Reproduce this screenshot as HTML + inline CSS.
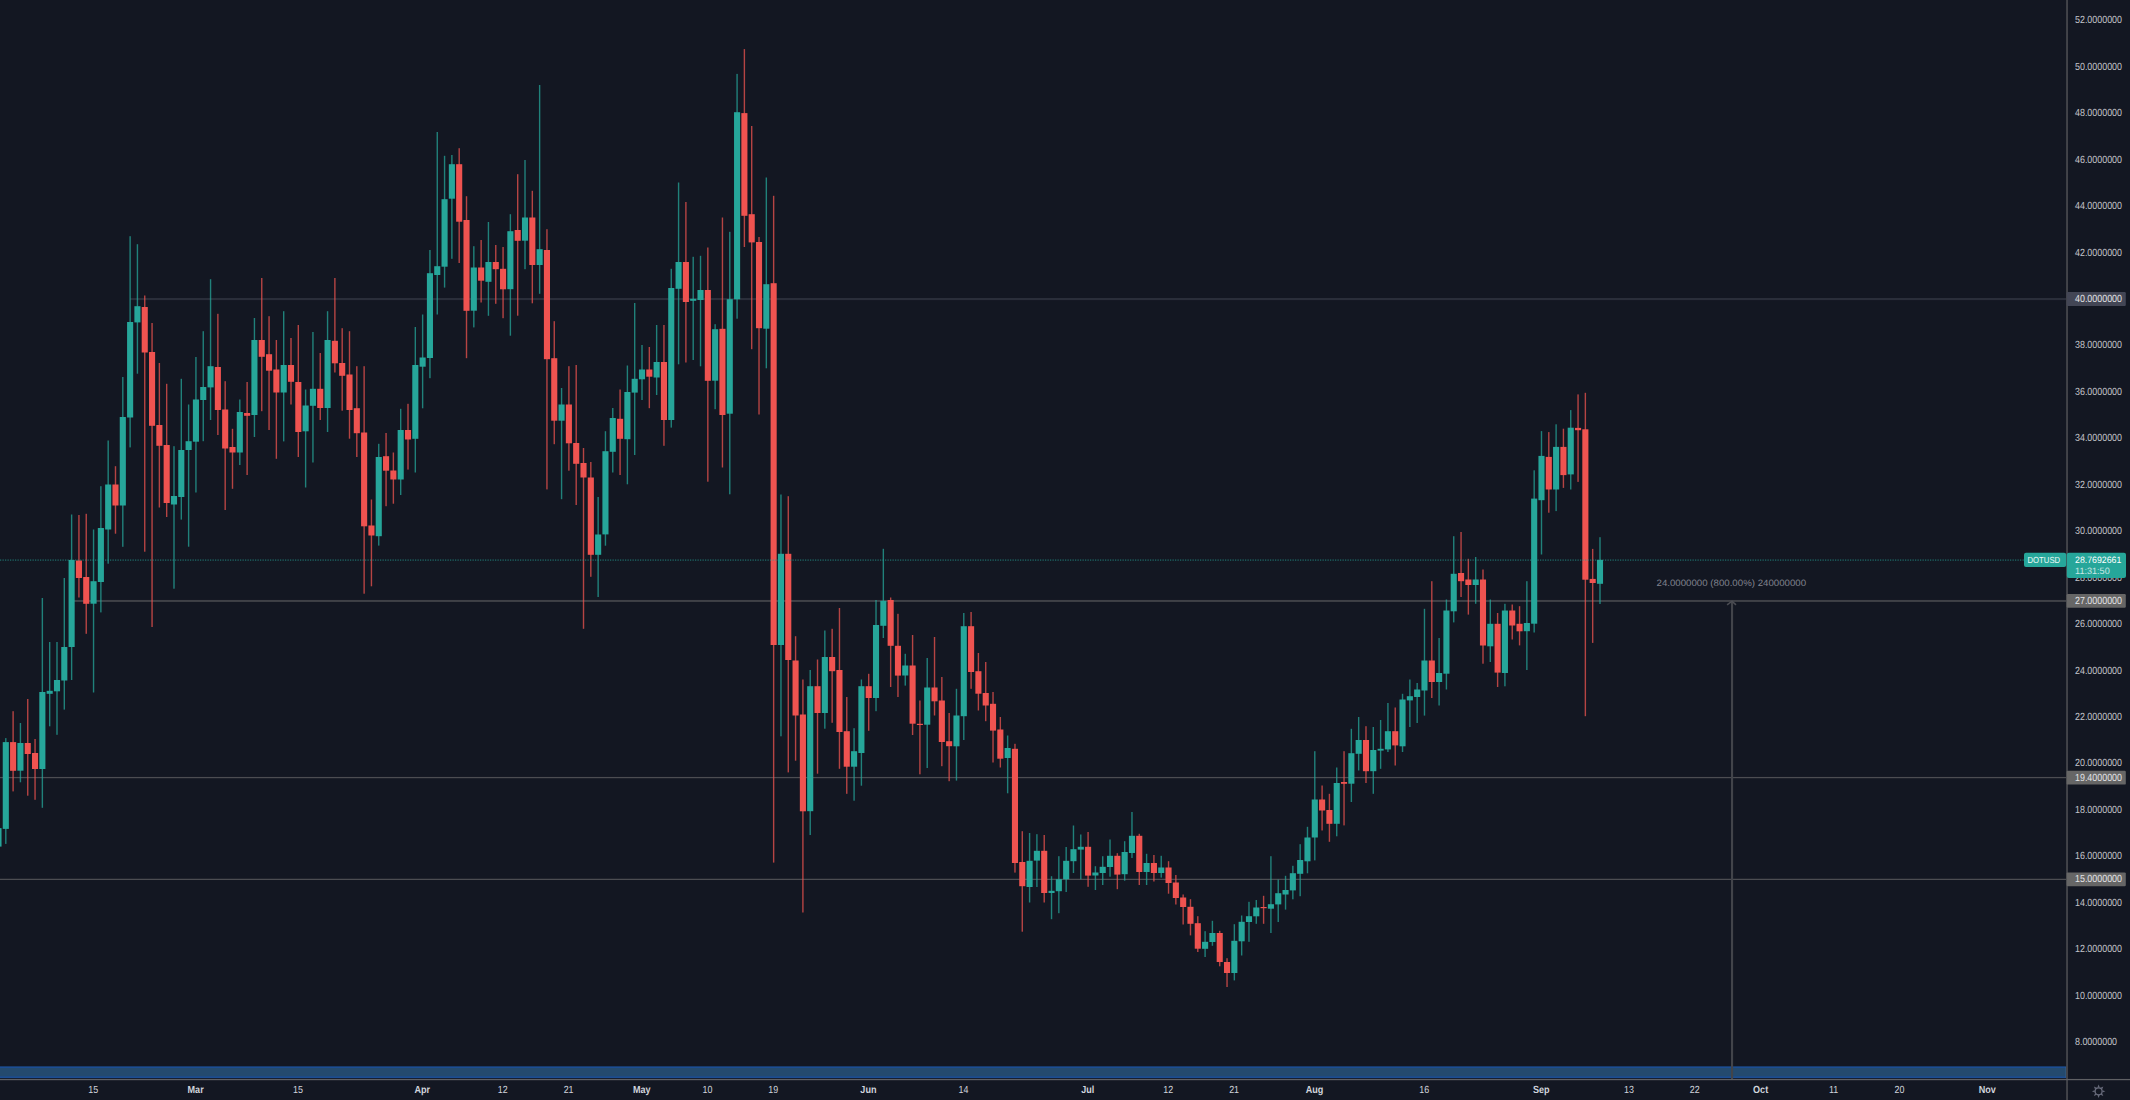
<!DOCTYPE html>
<html><head><meta charset="utf-8"><title>DOTUSD</title>
<style>html,body{margin:0;padding:0;background:#131722;overflow:hidden}svg{display:block}text{font-family:"Liberation Sans",sans-serif;text-rendering:geometricPrecision}</style></head><body>
<svg width="2130" height="1100" viewBox="0 0 2130 1100">
<rect width="2130" height="1100" fill="#131722"/>
<g id="band">
<rect x="0" y="1066.8" width="2066.6" height="11.2" fill="#244a6e"/>
<rect x="0" y="1066.4" width="2066.6" height="1.6" fill="#1c4d92"/>
<rect x="0" y="1076.4" width="2066.6" height="1.7" fill="#1c4d92"/>
<rect x="2065.6" y="1067" width="1" height="10.6" fill="#3e648c"/>
</g>
<g id="hlines">
<rect x="130.1" y="298" width="1936.9" height="2.1" fill="#2a2e3a"/>
<rect x="71.6" y="599.95" width="1995.4" height="2" fill="#3f4147"/>
<rect x="0" y="776.95" width="2067" height="1.25" fill="#4c4d52"/>
<rect x="0" y="878.75" width="2067" height="1.25" fill="#4c4d52"/>
</g>
<g id="measure">
<rect x="1731.00" y="601.5" width="2.1" height="477.5" fill="#42444a"/>
<polyline points="1727.1,604.9 1732.0,601.2 1736.0,604.9" stroke="#4b4d53" stroke-width="1.5" fill="none"/>
</g>
<text transform="translate(1731.3,586.1) scale(1.053,1)" text-anchor="middle" font-size="9.2" fill="#81848f">24.0000000 (800.00%) 240000000</text>
<g id="candles">
<rect x="-2.21" y="826.0" width="1.4" height="24.0" fill="#26a69a" opacity="0.74"/><rect x="-4.56" y="828.1" width="6.1" height="18.5" fill="#26a69a"/>
<rect x="5.10" y="738.1" width="1.4" height="105.8" fill="#26a69a" opacity="0.74"/><rect x="2.75" y="742.1" width="6.1" height="86.8" fill="#26a69a"/>
<rect x="12.41" y="711.2" width="1.4" height="80.2" fill="#ef5350" opacity="0.74"/><rect x="10.06" y="742.1" width="6.1" height="28.7" fill="#ef5350"/>
<rect x="19.73" y="723.0" width="1.4" height="59.3" fill="#26a69a" opacity="0.74"/><rect x="17.38" y="743.0" width="6.1" height="27.7" fill="#26a69a"/>
<rect x="27.04" y="699.0" width="1.4" height="96.7" fill="#ef5350" opacity="0.74"/><rect x="24.69" y="743.0" width="6.1" height="11.0" fill="#ef5350"/>
<rect x="34.35" y="739.0" width="1.4" height="60.8" fill="#ef5350" opacity="0.74"/><rect x="32.00" y="753.0" width="6.1" height="16.0" fill="#ef5350"/>
<rect x="41.66" y="598.0" width="1.4" height="209.8" fill="#26a69a" opacity="0.74"/><rect x="39.31" y="692.0" width="6.1" height="77.0" fill="#26a69a"/>
<rect x="48.98" y="642.0" width="1.4" height="84.3" fill="#26a69a" opacity="0.74"/><rect x="46.63" y="690.8" width="6.1" height="3.0" fill="#26a69a"/>
<rect x="56.29" y="642.0" width="1.4" height="92.8" fill="#26a69a" opacity="0.74"/><rect x="53.94" y="680.0" width="6.1" height="11.3" fill="#26a69a"/>
<rect x="63.60" y="578.0" width="1.4" height="131.6" fill="#26a69a" opacity="0.74"/><rect x="61.25" y="647.0" width="6.1" height="33.5" fill="#26a69a"/>
<rect x="70.92" y="514.5" width="1.4" height="165.5" fill="#26a69a" opacity="0.74"/><rect x="68.57" y="560.0" width="6.1" height="87.0" fill="#26a69a"/>
<rect x="78.23" y="515.0" width="1.4" height="82.5" fill="#ef5350" opacity="0.74"/><rect x="75.88" y="560.5" width="6.1" height="17.5" fill="#ef5350"/>
<rect x="85.54" y="513.8" width="1.4" height="120.0" fill="#ef5350" opacity="0.74"/><rect x="83.19" y="577.0" width="6.1" height="26.8" fill="#ef5350"/>
<rect x="92.85" y="529.5" width="1.4" height="163.0" fill="#26a69a" opacity="0.74"/><rect x="90.50" y="581.2" width="6.1" height="22.5" fill="#26a69a"/>
<rect x="100.17" y="486.2" width="1.4" height="126.2" fill="#26a69a" opacity="0.74"/><rect x="97.82" y="528.0" width="6.1" height="54.0" fill="#26a69a"/>
<rect x="107.48" y="440.5" width="1.4" height="123.2" fill="#26a69a" opacity="0.74"/><rect x="105.13" y="484.5" width="6.1" height="45.0" fill="#26a69a"/>
<rect x="114.79" y="466.2" width="1.4" height="67.5" fill="#ef5350" opacity="0.74"/><rect x="112.44" y="484.5" width="6.1" height="21.0" fill="#ef5350"/>
<rect x="122.10" y="377.0" width="1.4" height="169.8" fill="#26a69a" opacity="0.74"/><rect x="119.75" y="417.0" width="6.1" height="88.5" fill="#26a69a"/>
<rect x="129.42" y="236.2" width="1.4" height="211.2" fill="#26a69a" opacity="0.74"/><rect x="127.07" y="322.0" width="6.1" height="95.5" fill="#26a69a"/>
<rect x="136.73" y="244.2" width="1.4" height="129.5" fill="#26a69a" opacity="0.74"/><rect x="134.38" y="306.2" width="6.1" height="16.2" fill="#26a69a"/>
<rect x="144.04" y="295.5" width="1.4" height="256.2" fill="#ef5350" opacity="0.74"/><rect x="141.69" y="307.0" width="6.1" height="45.5" fill="#ef5350"/>
<rect x="151.36" y="323.0" width="1.4" height="304.0" fill="#ef5350" opacity="0.74"/><rect x="149.01" y="352.0" width="6.1" height="73.8" fill="#ef5350"/>
<rect x="158.67" y="363.0" width="1.4" height="144.5" fill="#ef5350" opacity="0.74"/><rect x="156.32" y="425.0" width="6.1" height="20.8" fill="#ef5350"/>
<rect x="165.98" y="383.8" width="1.4" height="133.2" fill="#ef5350" opacity="0.74"/><rect x="163.63" y="445.0" width="6.1" height="58.0" fill="#ef5350"/>
<rect x="173.29" y="446.2" width="1.4" height="142.5" fill="#26a69a" opacity="0.74"/><rect x="170.94" y="496.0" width="6.1" height="8.5" fill="#26a69a"/>
<rect x="180.61" y="378.8" width="1.4" height="140.8" fill="#26a69a" opacity="0.74"/><rect x="178.26" y="450.0" width="6.1" height="47.0" fill="#26a69a"/>
<rect x="187.92" y="404.5" width="1.4" height="142.2" fill="#26a69a" opacity="0.74"/><rect x="185.57" y="441.2" width="6.1" height="8.8" fill="#26a69a"/>
<rect x="195.23" y="357.0" width="1.4" height="135.5" fill="#26a69a" opacity="0.74"/><rect x="192.88" y="399.5" width="6.1" height="42.2" fill="#26a69a"/>
<rect x="202.55" y="331.2" width="1.4" height="110.0" fill="#26a69a" opacity="0.74"/><rect x="200.20" y="387.0" width="6.1" height="13.0" fill="#26a69a"/>
<rect x="209.86" y="279.2" width="1.4" height="140.8" fill="#26a69a" opacity="0.74"/><rect x="207.51" y="366.2" width="6.1" height="21.2" fill="#26a69a"/>
<rect x="217.17" y="313.8" width="1.4" height="121.2" fill="#ef5350" opacity="0.74"/><rect x="214.82" y="367.0" width="6.1" height="43.0" fill="#ef5350"/>
<rect x="224.48" y="381.2" width="1.4" height="128.8" fill="#ef5350" opacity="0.74"/><rect x="222.13" y="409.5" width="6.1" height="39.0" fill="#ef5350"/>
<rect x="231.80" y="428.8" width="1.4" height="60.0" fill="#ef5350" opacity="0.74"/><rect x="229.45" y="447.0" width="6.1" height="5.5" fill="#ef5350"/>
<rect x="239.11" y="399.5" width="1.4" height="65.5" fill="#26a69a" opacity="0.74"/><rect x="236.76" y="412.0" width="6.1" height="40.5" fill="#26a69a"/>
<rect x="246.42" y="382.0" width="1.4" height="93.0" fill="#ef5350" opacity="0.74"/><rect x="244.07" y="413.0" width="6.1" height="2.8" fill="#ef5350"/>
<rect x="253.74" y="318.0" width="1.4" height="119.0" fill="#26a69a" opacity="0.74"/><rect x="251.39" y="340.0" width="6.1" height="75.0" fill="#26a69a"/>
<rect x="261.05" y="278.0" width="1.4" height="133.2" fill="#ef5350" opacity="0.74"/><rect x="258.70" y="340.0" width="6.1" height="16.8" fill="#ef5350"/>
<rect x="268.36" y="316.2" width="1.4" height="113.8" fill="#ef5350" opacity="0.74"/><rect x="266.01" y="354.2" width="6.1" height="16.5" fill="#ef5350"/>
<rect x="275.67" y="340.0" width="1.4" height="118.8" fill="#ef5350" opacity="0.74"/><rect x="273.32" y="369.5" width="6.1" height="23.0" fill="#ef5350"/>
<rect x="282.99" y="311.2" width="1.4" height="130.2" fill="#26a69a" opacity="0.74"/><rect x="280.64" y="365.0" width="6.1" height="27.5" fill="#26a69a"/>
<rect x="290.30" y="338.0" width="1.4" height="66.5" fill="#ef5350" opacity="0.74"/><rect x="287.95" y="365.0" width="6.1" height="16.8" fill="#ef5350"/>
<rect x="297.61" y="325.0" width="1.4" height="132.0" fill="#ef5350" opacity="0.74"/><rect x="295.26" y="382.0" width="6.1" height="50.0" fill="#ef5350"/>
<rect x="304.92" y="389.5" width="1.4" height="98.0" fill="#26a69a" opacity="0.74"/><rect x="302.57" y="405.5" width="6.1" height="25.8" fill="#26a69a"/>
<rect x="312.24" y="332.0" width="1.4" height="130.5" fill="#26a69a" opacity="0.74"/><rect x="309.89" y="388.8" width="6.1" height="17.0" fill="#26a69a"/>
<rect x="319.55" y="353.0" width="1.4" height="67.0" fill="#ef5350" opacity="0.74"/><rect x="317.20" y="388.8" width="6.1" height="19.2" fill="#ef5350"/>
<rect x="326.86" y="311.2" width="1.4" height="120.8" fill="#26a69a" opacity="0.74"/><rect x="324.51" y="340.0" width="6.1" height="68.0" fill="#26a69a"/>
<rect x="334.18" y="278.0" width="1.4" height="94.5" fill="#ef5350" opacity="0.74"/><rect x="331.83" y="340.8" width="6.1" height="22.5" fill="#ef5350"/>
<rect x="341.49" y="328.2" width="1.4" height="82.5" fill="#ef5350" opacity="0.74"/><rect x="339.14" y="363.0" width="6.1" height="12.8" fill="#ef5350"/>
<rect x="348.80" y="331.2" width="1.4" height="107.5" fill="#ef5350" opacity="0.74"/><rect x="346.45" y="374.5" width="6.1" height="35.5" fill="#ef5350"/>
<rect x="356.11" y="366.2" width="1.4" height="90.8" fill="#ef5350" opacity="0.74"/><rect x="353.76" y="408.2" width="6.1" height="25.0" fill="#ef5350"/>
<rect x="363.43" y="366.2" width="1.4" height="227.5" fill="#ef5350" opacity="0.74"/><rect x="361.08" y="432.5" width="6.1" height="93.8" fill="#ef5350"/>
<rect x="370.74" y="499.5" width="1.4" height="86.8" fill="#ef5350" opacity="0.74"/><rect x="368.39" y="525.5" width="6.1" height="10.0" fill="#ef5350"/>
<rect x="378.05" y="443.8" width="1.4" height="101.8" fill="#26a69a" opacity="0.74"/><rect x="375.70" y="457.0" width="6.1" height="79.2" fill="#26a69a"/>
<rect x="385.37" y="433.0" width="1.4" height="73.2" fill="#ef5350" opacity="0.74"/><rect x="383.02" y="456.2" width="6.1" height="14.5" fill="#ef5350"/>
<rect x="392.68" y="452.5" width="1.4" height="51.2" fill="#ef5350" opacity="0.74"/><rect x="390.33" y="470.5" width="6.1" height="9.0" fill="#ef5350"/>
<rect x="399.99" y="408.8" width="1.4" height="86.2" fill="#26a69a" opacity="0.74"/><rect x="397.64" y="430.0" width="6.1" height="49.5" fill="#26a69a"/>
<rect x="407.30" y="403.8" width="1.4" height="65.8" fill="#ef5350" opacity="0.74"/><rect x="404.95" y="430.0" width="6.1" height="9.5" fill="#ef5350"/>
<rect x="414.62" y="327.0" width="1.4" height="145.5" fill="#26a69a" opacity="0.74"/><rect x="412.27" y="365.0" width="6.1" height="73.8" fill="#26a69a"/>
<rect x="421.93" y="314.5" width="1.4" height="93.8" fill="#26a69a" opacity="0.74"/><rect x="419.58" y="357.5" width="6.1" height="9.2" fill="#26a69a"/>
<rect x="429.24" y="250.0" width="1.4" height="128.2" fill="#26a69a" opacity="0.74"/><rect x="426.89" y="273.2" width="6.1" height="84.8" fill="#26a69a"/>
<rect x="436.56" y="132.0" width="1.4" height="182.5" fill="#26a69a" opacity="0.74"/><rect x="434.21" y="266.2" width="6.1" height="8.8" fill="#26a69a"/>
<rect x="443.87" y="155.8" width="1.4" height="131.8" fill="#26a69a" opacity="0.74"/><rect x="441.52" y="199.2" width="6.1" height="67.5" fill="#26a69a"/>
<rect x="451.18" y="155.0" width="1.4" height="103.8" fill="#26a69a" opacity="0.74"/><rect x="448.83" y="164.2" width="6.1" height="34.5" fill="#26a69a"/>
<rect x="458.49" y="148.2" width="1.4" height="114.8" fill="#ef5350" opacity="0.74"/><rect x="456.14" y="164.2" width="6.1" height="57.5" fill="#ef5350"/>
<rect x="465.81" y="196.2" width="1.4" height="162.0" fill="#ef5350" opacity="0.74"/><rect x="463.46" y="220.0" width="6.1" height="90.8" fill="#ef5350"/>
<rect x="473.12" y="246.2" width="1.4" height="81.2" fill="#26a69a" opacity="0.74"/><rect x="470.77" y="267.5" width="6.1" height="43.2" fill="#26a69a"/>
<rect x="480.43" y="240.0" width="1.4" height="62.5" fill="#ef5350" opacity="0.74"/><rect x="478.08" y="267.5" width="6.1" height="13.2" fill="#ef5350"/>
<rect x="487.74" y="222.0" width="1.4" height="93.8" fill="#26a69a" opacity="0.74"/><rect x="485.39" y="262.0" width="6.1" height="19.8" fill="#26a69a"/>
<rect x="495.06" y="245.0" width="1.4" height="58.8" fill="#ef5350" opacity="0.74"/><rect x="492.71" y="262.0" width="6.1" height="7.2" fill="#ef5350"/>
<rect x="502.37" y="247.0" width="1.4" height="71.2" fill="#ef5350" opacity="0.74"/><rect x="500.02" y="268.8" width="6.1" height="20.5" fill="#ef5350"/>
<rect x="509.68" y="214.2" width="1.4" height="121.5" fill="#26a69a" opacity="0.74"/><rect x="507.33" y="231.2" width="6.1" height="58.0" fill="#26a69a"/>
<rect x="517.00" y="174.2" width="1.4" height="141.5" fill="#ef5350" opacity="0.74"/><rect x="514.65" y="230.0" width="6.1" height="10.8" fill="#ef5350"/>
<rect x="524.31" y="160.0" width="1.4" height="109.2" fill="#26a69a" opacity="0.74"/><rect x="521.96" y="217.5" width="6.1" height="23.2" fill="#26a69a"/>
<rect x="531.62" y="190.8" width="1.4" height="112.5" fill="#ef5350" opacity="0.74"/><rect x="529.27" y="217.5" width="6.1" height="47.5" fill="#ef5350"/>
<rect x="538.93" y="85.0" width="1.4" height="208.8" fill="#26a69a" opacity="0.74"/><rect x="536.58" y="249.2" width="6.1" height="15.8" fill="#26a69a"/>
<rect x="546.25" y="229.2" width="1.4" height="260.2" fill="#ef5350" opacity="0.74"/><rect x="543.90" y="250.0" width="6.1" height="109.2" fill="#ef5350"/>
<rect x="553.56" y="321.2" width="1.4" height="123.0" fill="#ef5350" opacity="0.74"/><rect x="551.21" y="358.2" width="6.1" height="62.5" fill="#ef5350"/>
<rect x="560.87" y="388.0" width="1.4" height="111.2" fill="#26a69a" opacity="0.74"/><rect x="558.52" y="404.5" width="6.1" height="16.2" fill="#26a69a"/>
<rect x="568.19" y="366.2" width="1.4" height="104.5" fill="#ef5350" opacity="0.74"/><rect x="565.84" y="404.5" width="6.1" height="38.8" fill="#ef5350"/>
<rect x="575.50" y="365.0" width="1.4" height="140.0" fill="#ef5350" opacity="0.74"/><rect x="573.15" y="443.0" width="6.1" height="20.8" fill="#ef5350"/>
<rect x="582.81" y="448.0" width="1.4" height="180.8" fill="#ef5350" opacity="0.74"/><rect x="580.46" y="463.0" width="6.1" height="14.5" fill="#ef5350"/>
<rect x="590.12" y="462.0" width="1.4" height="114.8" fill="#ef5350" opacity="0.74"/><rect x="587.77" y="477.5" width="6.1" height="77.3" fill="#ef5350"/>
<rect x="597.44" y="497.0" width="1.4" height="100.0" fill="#26a69a" opacity="0.74"/><rect x="595.09" y="534.5" width="6.1" height="20.3" fill="#26a69a"/>
<rect x="604.75" y="431.2" width="1.4" height="114.5" fill="#26a69a" opacity="0.74"/><rect x="602.40" y="451.2" width="6.1" height="83.2" fill="#26a69a"/>
<rect x="612.06" y="408.0" width="1.4" height="64.5" fill="#26a69a" opacity="0.74"/><rect x="609.71" y="418.0" width="6.1" height="33.8" fill="#26a69a"/>
<rect x="619.38" y="389.5" width="1.4" height="85.5" fill="#ef5350" opacity="0.74"/><rect x="617.03" y="418.8" width="6.1" height="20.0" fill="#ef5350"/>
<rect x="626.69" y="365.5" width="1.4" height="118.8" fill="#26a69a" opacity="0.74"/><rect x="624.34" y="392.0" width="6.1" height="47.2" fill="#26a69a"/>
<rect x="634.00" y="303.0" width="1.4" height="152.0" fill="#26a69a" opacity="0.74"/><rect x="631.65" y="378.8" width="6.1" height="13.8" fill="#26a69a"/>
<rect x="641.31" y="345.0" width="1.4" height="55.0" fill="#26a69a" opacity="0.74"/><rect x="638.96" y="369.5" width="6.1" height="9.8" fill="#26a69a"/>
<rect x="648.63" y="347.0" width="1.4" height="61.2" fill="#ef5350" opacity="0.74"/><rect x="646.28" y="369.5" width="6.1" height="7.2" fill="#ef5350"/>
<rect x="655.94" y="325.0" width="1.4" height="70.0" fill="#26a69a" opacity="0.74"/><rect x="653.59" y="362.0" width="6.1" height="15.5" fill="#26a69a"/>
<rect x="663.25" y="325.0" width="1.4" height="120.8" fill="#ef5350" opacity="0.74"/><rect x="660.90" y="362.0" width="6.1" height="58.0" fill="#ef5350"/>
<rect x="670.56" y="268.8" width="1.4" height="158.8" fill="#26a69a" opacity="0.74"/><rect x="668.21" y="288.0" width="6.1" height="132.0" fill="#26a69a"/>
<rect x="677.88" y="182.5" width="1.4" height="181.8" fill="#26a69a" opacity="0.74"/><rect x="675.53" y="262.0" width="6.1" height="26.8" fill="#26a69a"/>
<rect x="685.19" y="202.0" width="1.4" height="160.5" fill="#ef5350" opacity="0.74"/><rect x="682.84" y="262.0" width="6.1" height="40.0" fill="#ef5350"/>
<rect x="692.50" y="256.8" width="1.4" height="103.2" fill="#26a69a" opacity="0.74"/><rect x="690.15" y="298.8" width="6.1" height="2.0" fill="#26a69a"/>
<rect x="699.82" y="255.8" width="1.4" height="110.5" fill="#26a69a" opacity="0.74"/><rect x="697.47" y="290.0" width="6.1" height="10.0" fill="#26a69a"/>
<rect x="707.13" y="247.5" width="1.4" height="234.2" fill="#ef5350" opacity="0.74"/><rect x="704.78" y="290.0" width="6.1" height="90.8" fill="#ef5350"/>
<rect x="714.44" y="324.2" width="1.4" height="85.0" fill="#26a69a" opacity="0.74"/><rect x="712.09" y="329.2" width="6.1" height="51.5" fill="#26a69a"/>
<rect x="721.75" y="217.5" width="1.4" height="250.0" fill="#ef5350" opacity="0.74"/><rect x="719.40" y="328.8" width="6.1" height="86.2" fill="#ef5350"/>
<rect x="729.07" y="231.8" width="1.4" height="262.5" fill="#26a69a" opacity="0.74"/><rect x="726.72" y="299.2" width="6.1" height="114.5" fill="#26a69a"/>
<rect x="736.38" y="73.9" width="1.4" height="244.8" fill="#26a69a" opacity="0.74"/><rect x="734.03" y="112.2" width="6.1" height="187.1" fill="#26a69a"/>
<rect x="743.69" y="49.1" width="1.4" height="197.9" fill="#ef5350" opacity="0.74"/><rect x="741.34" y="113.1" width="6.1" height="102.7" fill="#ef5350"/>
<rect x="751.01" y="126.0" width="1.4" height="223.2" fill="#ef5350" opacity="0.74"/><rect x="748.66" y="214.2" width="6.1" height="28.2" fill="#ef5350"/>
<rect x="758.32" y="237.0" width="1.4" height="177.5" fill="#ef5350" opacity="0.74"/><rect x="755.97" y="242.0" width="6.1" height="86.2" fill="#ef5350"/>
<rect x="765.63" y="177.5" width="1.4" height="190.8" fill="#26a69a" opacity="0.74"/><rect x="763.28" y="284.2" width="6.1" height="44.5" fill="#26a69a"/>
<rect x="772.94" y="195.8" width="1.4" height="666.8" fill="#ef5350" opacity="0.74"/><rect x="770.59" y="283.2" width="6.1" height="361.8" fill="#ef5350"/>
<rect x="780.26" y="494.5" width="1.4" height="241.8" fill="#26a69a" opacity="0.74"/><rect x="777.91" y="553.8" width="6.1" height="91.2" fill="#26a69a"/>
<rect x="787.57" y="496.2" width="1.4" height="276.2" fill="#ef5350" opacity="0.74"/><rect x="785.22" y="553.8" width="6.1" height="106.2" fill="#ef5350"/>
<rect x="794.88" y="636.2" width="1.4" height="124.5" fill="#ef5350" opacity="0.74"/><rect x="792.53" y="660.5" width="6.1" height="55.0" fill="#ef5350"/>
<rect x="802.20" y="679.5" width="1.4" height="233.0" fill="#ef5350" opacity="0.74"/><rect x="799.85" y="714.5" width="6.1" height="96.8" fill="#ef5350"/>
<rect x="809.51" y="670.0" width="1.4" height="165.0" fill="#26a69a" opacity="0.74"/><rect x="807.16" y="686.2" width="6.1" height="125.0" fill="#26a69a"/>
<rect x="816.82" y="659.5" width="1.4" height="114.2" fill="#ef5350" opacity="0.74"/><rect x="814.47" y="686.2" width="6.1" height="26.8" fill="#ef5350"/>
<rect x="824.13" y="630.5" width="1.4" height="98.2" fill="#26a69a" opacity="0.74"/><rect x="821.78" y="657.0" width="6.1" height="56.0" fill="#26a69a"/>
<rect x="831.45" y="628.8" width="1.4" height="94.0" fill="#ef5350" opacity="0.74"/><rect x="829.10" y="657.0" width="6.1" height="14.2" fill="#ef5350"/>
<rect x="838.76" y="608.0" width="1.4" height="160.8" fill="#ef5350" opacity="0.74"/><rect x="836.41" y="670.0" width="6.1" height="62.0" fill="#ef5350"/>
<rect x="846.07" y="697.0" width="1.4" height="96.8" fill="#ef5350" opacity="0.74"/><rect x="843.72" y="731.2" width="6.1" height="35.5" fill="#ef5350"/>
<rect x="853.38" y="728.2" width="1.4" height="72.5" fill="#26a69a" opacity="0.74"/><rect x="851.03" y="751.2" width="6.1" height="15.5" fill="#26a69a"/>
<rect x="860.70" y="679.5" width="1.4" height="106.2" fill="#26a69a" opacity="0.74"/><rect x="858.35" y="686.2" width="6.1" height="66.8" fill="#26a69a"/>
<rect x="868.01" y="673.8" width="1.4" height="57.0" fill="#ef5350" opacity="0.74"/><rect x="865.66" y="686.2" width="6.1" height="11.8" fill="#ef5350"/>
<rect x="875.32" y="600.0" width="1.4" height="111.2" fill="#26a69a" opacity="0.74"/><rect x="872.97" y="625.0" width="6.1" height="73.0" fill="#26a69a"/>
<rect x="882.64" y="548.8" width="1.4" height="89.2" fill="#26a69a" opacity="0.74"/><rect x="880.29" y="600.8" width="6.1" height="25.0" fill="#26a69a"/>
<rect x="889.95" y="597.5" width="1.4" height="89.5" fill="#ef5350" opacity="0.74"/><rect x="887.60" y="600.0" width="6.1" height="45.8" fill="#ef5350"/>
<rect x="897.26" y="613.8" width="1.4" height="83.2" fill="#ef5350" opacity="0.74"/><rect x="894.91" y="645.8" width="6.1" height="29.8" fill="#ef5350"/>
<rect x="904.57" y="653.8" width="1.4" height="31.8" fill="#26a69a" opacity="0.74"/><rect x="902.22" y="665.5" width="6.1" height="10.0" fill="#26a69a"/>
<rect x="911.89" y="635.0" width="1.4" height="100.0" fill="#ef5350" opacity="0.74"/><rect x="909.54" y="665.5" width="6.1" height="58.2" fill="#ef5350"/>
<rect x="919.20" y="700.5" width="1.4" height="73.8" fill="#ef5350" opacity="0.74"/><rect x="916.85" y="723.8" width="6.1" height="1.2" fill="#ef5350"/>
<rect x="926.51" y="658.0" width="1.4" height="110.0" fill="#26a69a" opacity="0.74"/><rect x="924.16" y="687.5" width="6.1" height="37.2" fill="#26a69a"/>
<rect x="933.83" y="637.0" width="1.4" height="78.5" fill="#ef5350" opacity="0.74"/><rect x="931.48" y="687.5" width="6.1" height="13.8" fill="#ef5350"/>
<rect x="941.14" y="677.0" width="1.4" height="89.2" fill="#ef5350" opacity="0.74"/><rect x="938.79" y="700.5" width="6.1" height="41.5" fill="#ef5350"/>
<rect x="948.45" y="713.0" width="1.4" height="68.2" fill="#ef5350" opacity="0.74"/><rect x="946.10" y="741.2" width="6.1" height="5.0" fill="#ef5350"/>
<rect x="955.76" y="688.8" width="1.4" height="91.8" fill="#26a69a" opacity="0.74"/><rect x="953.41" y="715.5" width="6.1" height="30.8" fill="#26a69a"/>
<rect x="963.08" y="613.0" width="1.4" height="127.0" fill="#26a69a" opacity="0.74"/><rect x="960.73" y="626.2" width="6.1" height="90.0" fill="#26a69a"/>
<rect x="970.39" y="612.0" width="1.4" height="76.8" fill="#ef5350" opacity="0.74"/><rect x="968.04" y="626.2" width="6.1" height="45.8" fill="#ef5350"/>
<rect x="977.70" y="653.0" width="1.4" height="57.5" fill="#ef5350" opacity="0.74"/><rect x="975.35" y="671.2" width="6.1" height="22.5" fill="#ef5350"/>
<rect x="985.02" y="662.0" width="1.4" height="59.2" fill="#ef5350" opacity="0.74"/><rect x="982.67" y="693.0" width="6.1" height="12.5" fill="#ef5350"/>
<rect x="992.33" y="692.0" width="1.4" height="70.5" fill="#ef5350" opacity="0.74"/><rect x="989.98" y="703.8" width="6.1" height="26.8" fill="#ef5350"/>
<rect x="999.64" y="717.0" width="1.4" height="50.5" fill="#ef5350" opacity="0.74"/><rect x="997.29" y="729.5" width="6.1" height="29.2" fill="#ef5350"/>
<rect x="1006.95" y="735.5" width="1.4" height="57.8" fill="#26a69a" opacity="0.74"/><rect x="1004.60" y="748.0" width="6.1" height="10.0" fill="#26a69a"/>
<rect x="1014.27" y="743.8" width="1.4" height="128.8" fill="#ef5350" opacity="0.74"/><rect x="1011.92" y="748.8" width="6.1" height="114.2" fill="#ef5350"/>
<rect x="1021.58" y="831.2" width="1.4" height="100.5" fill="#ef5350" opacity="0.74"/><rect x="1019.23" y="862.0" width="6.1" height="24.2" fill="#ef5350"/>
<rect x="1028.89" y="833.0" width="1.4" height="69.5" fill="#26a69a" opacity="0.74"/><rect x="1026.54" y="860.8" width="6.1" height="26.2" fill="#26a69a"/>
<rect x="1036.20" y="834.2" width="1.4" height="52.8" fill="#26a69a" opacity="0.74"/><rect x="1033.85" y="850.8" width="6.1" height="9.8" fill="#26a69a"/>
<rect x="1043.52" y="835.0" width="1.4" height="67.5" fill="#ef5350" opacity="0.74"/><rect x="1041.17" y="850.8" width="6.1" height="42.2" fill="#ef5350"/>
<rect x="1050.83" y="876.2" width="1.4" height="43.0" fill="#26a69a" opacity="0.74"/><rect x="1048.48" y="890.8" width="6.1" height="2.2" fill="#26a69a"/>
<rect x="1058.14" y="856.2" width="1.4" height="57.0" fill="#26a69a" opacity="0.74"/><rect x="1055.79" y="879.2" width="6.1" height="12.0" fill="#26a69a"/>
<rect x="1065.46" y="847.0" width="1.4" height="45.0" fill="#26a69a" opacity="0.74"/><rect x="1063.11" y="860.8" width="6.1" height="18.5" fill="#26a69a"/>
<rect x="1072.77" y="825.5" width="1.4" height="47.5" fill="#26a69a" opacity="0.74"/><rect x="1070.42" y="849.2" width="6.1" height="12.0" fill="#26a69a"/>
<rect x="1080.08" y="834.5" width="1.4" height="44.8" fill="#26a69a" opacity="0.74"/><rect x="1077.73" y="846.8" width="6.1" height="2.8" fill="#26a69a"/>
<rect x="1087.39" y="832.0" width="1.4" height="54.8" fill="#ef5350" opacity="0.74"/><rect x="1085.04" y="846.8" width="6.1" height="28.8" fill="#ef5350"/>
<rect x="1094.71" y="866.2" width="1.4" height="23.8" fill="#26a69a" opacity="0.74"/><rect x="1092.36" y="872.5" width="6.1" height="3.0" fill="#26a69a"/>
<rect x="1102.02" y="856.2" width="1.4" height="28.8" fill="#26a69a" opacity="0.74"/><rect x="1099.67" y="866.8" width="6.1" height="6.2" fill="#26a69a"/>
<rect x="1109.33" y="839.5" width="1.4" height="37.2" fill="#26a69a" opacity="0.74"/><rect x="1106.98" y="855.8" width="6.1" height="11.2" fill="#26a69a"/>
<rect x="1116.65" y="853.2" width="1.4" height="36.0" fill="#ef5350" opacity="0.74"/><rect x="1114.30" y="855.8" width="6.1" height="18.8" fill="#ef5350"/>
<rect x="1123.96" y="841.2" width="1.4" height="39.5" fill="#26a69a" opacity="0.74"/><rect x="1121.61" y="852.0" width="6.1" height="22.2" fill="#26a69a"/>
<rect x="1131.27" y="812.0" width="1.4" height="46.0" fill="#26a69a" opacity="0.74"/><rect x="1128.92" y="835.8" width="6.1" height="17.2" fill="#26a69a"/>
<rect x="1138.58" y="833.8" width="1.4" height="51.2" fill="#ef5350" opacity="0.74"/><rect x="1136.23" y="835.8" width="6.1" height="36.2" fill="#ef5350"/>
<rect x="1145.90" y="853.8" width="1.4" height="31.2" fill="#26a69a" opacity="0.74"/><rect x="1143.55" y="863.0" width="6.1" height="9.0" fill="#26a69a"/>
<rect x="1153.21" y="855.0" width="1.4" height="26.5" fill="#ef5350" opacity="0.74"/><rect x="1150.86" y="863.0" width="6.1" height="10.0" fill="#ef5350"/>
<rect x="1160.52" y="855.8" width="1.4" height="21.8" fill="#26a69a" opacity="0.74"/><rect x="1158.17" y="867.5" width="6.1" height="5.5" fill="#26a69a"/>
<rect x="1167.84" y="861.2" width="1.4" height="32.5" fill="#ef5350" opacity="0.74"/><rect x="1165.49" y="867.5" width="6.1" height="15.5" fill="#ef5350"/>
<rect x="1175.15" y="875.0" width="1.4" height="29.5" fill="#ef5350" opacity="0.74"/><rect x="1172.80" y="882.5" width="6.1" height="15.5" fill="#ef5350"/>
<rect x="1182.46" y="894.5" width="1.4" height="30.0" fill="#ef5350" opacity="0.74"/><rect x="1180.11" y="897.5" width="6.1" height="9.5" fill="#ef5350"/>
<rect x="1189.77" y="899.2" width="1.4" height="36.2" fill="#ef5350" opacity="0.74"/><rect x="1187.42" y="906.8" width="6.1" height="17.0" fill="#ef5350"/>
<rect x="1197.09" y="916.2" width="1.4" height="35.8" fill="#ef5350" opacity="0.74"/><rect x="1194.74" y="923.2" width="6.1" height="25.5" fill="#ef5350"/>
<rect x="1204.40" y="931.2" width="1.4" height="25.8" fill="#26a69a" opacity="0.74"/><rect x="1202.05" y="941.8" width="6.1" height="7.0" fill="#26a69a"/>
<rect x="1211.71" y="920.8" width="1.4" height="25.0" fill="#26a69a" opacity="0.74"/><rect x="1209.36" y="933.0" width="6.1" height="9.0" fill="#26a69a"/>
<rect x="1219.02" y="930.8" width="1.4" height="35.5" fill="#ef5350" opacity="0.74"/><rect x="1216.67" y="933.0" width="6.1" height="29.0" fill="#ef5350"/>
<rect x="1226.34" y="958.2" width="1.4" height="28.8" fill="#ef5350" opacity="0.74"/><rect x="1223.99" y="962.0" width="6.1" height="11.0" fill="#ef5350"/>
<rect x="1233.65" y="924.2" width="1.4" height="56.2" fill="#26a69a" opacity="0.74"/><rect x="1231.30" y="940.8" width="6.1" height="32.2" fill="#26a69a"/>
<rect x="1240.96" y="915.5" width="1.4" height="40.0" fill="#26a69a" opacity="0.74"/><rect x="1238.61" y="921.8" width="6.1" height="19.5" fill="#26a69a"/>
<rect x="1248.28" y="901.8" width="1.4" height="40.0" fill="#26a69a" opacity="0.74"/><rect x="1245.93" y="916.2" width="6.1" height="5.8" fill="#26a69a"/>
<rect x="1255.59" y="900.0" width="1.4" height="23.8" fill="#26a69a" opacity="0.74"/><rect x="1253.24" y="907.5" width="6.1" height="8.8" fill="#26a69a"/>
<rect x="1262.90" y="895.8" width="1.4" height="28.0" fill="#ef5350" opacity="0.74"/><rect x="1260.55" y="907.0" width="6.1" height="1.2" fill="#ef5350"/>
<rect x="1270.21" y="856.2" width="1.4" height="76.8" fill="#26a69a" opacity="0.74"/><rect x="1267.86" y="904.2" width="6.1" height="4.5" fill="#26a69a"/>
<rect x="1277.53" y="879.5" width="1.4" height="42.5" fill="#26a69a" opacity="0.74"/><rect x="1275.18" y="893.2" width="6.1" height="11.2" fill="#26a69a"/>
<rect x="1284.84" y="875.8" width="1.4" height="33.8" fill="#26a69a" opacity="0.74"/><rect x="1282.49" y="890.0" width="6.1" height="4.5" fill="#26a69a"/>
<rect x="1292.15" y="865.8" width="1.4" height="33.5" fill="#26a69a" opacity="0.74"/><rect x="1289.80" y="873.2" width="6.1" height="17.2" fill="#26a69a"/>
<rect x="1299.47" y="844.2" width="1.4" height="52.0" fill="#26a69a" opacity="0.74"/><rect x="1297.12" y="860.0" width="6.1" height="13.8" fill="#26a69a"/>
<rect x="1306.78" y="826.8" width="1.4" height="46.5" fill="#26a69a" opacity="0.74"/><rect x="1304.43" y="837.5" width="6.1" height="23.8" fill="#26a69a"/>
<rect x="1314.09" y="751.2" width="1.4" height="109.2" fill="#26a69a" opacity="0.74"/><rect x="1311.74" y="799.5" width="6.1" height="38.0" fill="#26a69a"/>
<rect x="1321.40" y="785.5" width="1.4" height="45.0" fill="#ef5350" opacity="0.74"/><rect x="1319.05" y="799.5" width="6.1" height="11.0" fill="#ef5350"/>
<rect x="1328.72" y="793.8" width="1.4" height="48.0" fill="#ef5350" opacity="0.74"/><rect x="1326.37" y="810.0" width="6.1" height="13.8" fill="#ef5350"/>
<rect x="1336.03" y="767.5" width="1.4" height="68.8" fill="#26a69a" opacity="0.74"/><rect x="1333.68" y="783.0" width="6.1" height="40.8" fill="#26a69a"/>
<rect x="1343.34" y="751.2" width="1.4" height="74.2" fill="#ef5350" opacity="0.74"/><rect x="1340.99" y="782.0" width="6.1" height="1.8" fill="#ef5350"/>
<rect x="1350.66" y="728.8" width="1.4" height="73.2" fill="#26a69a" opacity="0.74"/><rect x="1348.31" y="753.2" width="6.1" height="30.5" fill="#26a69a"/>
<rect x="1357.97" y="717.0" width="1.4" height="53.5" fill="#26a69a" opacity="0.74"/><rect x="1355.62" y="740.0" width="6.1" height="13.8" fill="#26a69a"/>
<rect x="1365.28" y="726.2" width="1.4" height="56.8" fill="#ef5350" opacity="0.74"/><rect x="1362.93" y="740.0" width="6.1" height="31.2" fill="#ef5350"/>
<rect x="1372.59" y="727.0" width="1.4" height="66.8" fill="#26a69a" opacity="0.74"/><rect x="1370.24" y="750.0" width="6.1" height="21.2" fill="#26a69a"/>
<rect x="1379.91" y="720.0" width="1.4" height="48.8" fill="#26a69a" opacity="0.74"/><rect x="1377.56" y="748.8" width="6.1" height="1.8" fill="#26a69a"/>
<rect x="1387.22" y="703.0" width="1.4" height="49.0" fill="#26a69a" opacity="0.74"/><rect x="1384.87" y="731.2" width="6.1" height="18.2" fill="#26a69a"/>
<rect x="1394.53" y="707.5" width="1.4" height="58.0" fill="#ef5350" opacity="0.74"/><rect x="1392.18" y="731.2" width="6.1" height="14.2" fill="#ef5350"/>
<rect x="1401.84" y="693.8" width="1.4" height="58.2" fill="#26a69a" opacity="0.74"/><rect x="1399.49" y="699.5" width="6.1" height="46.8" fill="#26a69a"/>
<rect x="1409.16" y="679.5" width="1.4" height="47.5" fill="#26a69a" opacity="0.74"/><rect x="1406.81" y="696.2" width="6.1" height="4.2" fill="#26a69a"/>
<rect x="1416.47" y="683.0" width="1.4" height="40.0" fill="#26a69a" opacity="0.74"/><rect x="1414.12" y="689.5" width="6.1" height="7.5" fill="#26a69a"/>
<rect x="1423.78" y="608.8" width="1.4" height="106.8" fill="#26a69a" opacity="0.74"/><rect x="1421.43" y="660.5" width="6.1" height="30.0" fill="#26a69a"/>
<rect x="1431.10" y="581.2" width="1.4" height="116.8" fill="#ef5350" opacity="0.74"/><rect x="1428.75" y="660.5" width="6.1" height="21.5" fill="#ef5350"/>
<rect x="1438.41" y="638.0" width="1.4" height="67.5" fill="#26a69a" opacity="0.74"/><rect x="1436.06" y="673.0" width="6.1" height="9.0" fill="#26a69a"/>
<rect x="1445.72" y="599.5" width="1.4" height="90.0" fill="#26a69a" opacity="0.74"/><rect x="1443.37" y="610.5" width="6.1" height="63.2" fill="#26a69a"/>
<rect x="1453.03" y="536.2" width="1.4" height="86.2" fill="#26a69a" opacity="0.74"/><rect x="1450.68" y="573.8" width="6.1" height="37.5" fill="#26a69a"/>
<rect x="1460.35" y="532.0" width="1.4" height="65.0" fill="#ef5350" opacity="0.74"/><rect x="1458.00" y="573.0" width="6.1" height="8.2" fill="#ef5350"/>
<rect x="1467.66" y="558.8" width="1.4" height="55.8" fill="#ef5350" opacity="0.74"/><rect x="1465.31" y="579.5" width="6.1" height="5.5" fill="#ef5350"/>
<rect x="1474.97" y="557.0" width="1.4" height="46.8" fill="#26a69a" opacity="0.74"/><rect x="1472.62" y="579.5" width="6.1" height="5.5" fill="#26a69a"/>
<rect x="1482.29" y="569.5" width="1.4" height="94.2" fill="#ef5350" opacity="0.74"/><rect x="1479.94" y="579.5" width="6.1" height="66.0" fill="#ef5350"/>
<rect x="1489.60" y="599.5" width="1.4" height="62.5" fill="#26a69a" opacity="0.74"/><rect x="1487.25" y="623.8" width="6.1" height="22.5" fill="#26a69a"/>
<rect x="1496.91" y="613.0" width="1.4" height="74.0" fill="#ef5350" opacity="0.74"/><rect x="1494.56" y="623.8" width="6.1" height="48.8" fill="#ef5350"/>
<rect x="1504.22" y="603.8" width="1.4" height="82.5" fill="#26a69a" opacity="0.74"/><rect x="1501.87" y="610.5" width="6.1" height="62.5" fill="#26a69a"/>
<rect x="1511.54" y="604.5" width="1.4" height="35.0" fill="#ef5350" opacity="0.74"/><rect x="1509.19" y="610.5" width="6.1" height="15.0" fill="#ef5350"/>
<rect x="1518.85" y="606.2" width="1.4" height="39.2" fill="#ef5350" opacity="0.74"/><rect x="1516.50" y="623.8" width="6.1" height="7.5" fill="#ef5350"/>
<rect x="1526.16" y="581.2" width="1.4" height="88.8" fill="#26a69a" opacity="0.74"/><rect x="1523.81" y="623.0" width="6.1" height="8.2" fill="#26a69a"/>
<rect x="1533.48" y="470.3" width="1.4" height="162.2" fill="#26a69a" opacity="0.74"/><rect x="1531.13" y="498.6" width="6.1" height="125.1" fill="#26a69a"/>
<rect x="1540.79" y="431.1" width="1.4" height="123.4" fill="#26a69a" opacity="0.74"/><rect x="1538.44" y="455.9" width="6.1" height="44.3" fill="#26a69a"/>
<rect x="1548.10" y="432.1" width="1.4" height="80.6" fill="#ef5350" opacity="0.74"/><rect x="1545.75" y="456.9" width="6.1" height="32.6" fill="#ef5350"/>
<rect x="1555.41" y="424.3" width="1.4" height="86.8" fill="#26a69a" opacity="0.74"/><rect x="1553.06" y="446.9" width="6.1" height="42.6" fill="#26a69a"/>
<rect x="1562.73" y="428.7" width="1.4" height="59.2" fill="#ef5350" opacity="0.74"/><rect x="1560.38" y="446.9" width="6.1" height="28.2" fill="#ef5350"/>
<rect x="1570.04" y="410.1" width="1.4" height="79.4" fill="#26a69a" opacity="0.74"/><rect x="1567.69" y="427.7" width="6.1" height="46.7" fill="#26a69a"/>
<rect x="1577.35" y="394.4" width="1.4" height="87.5" fill="#ef5350" opacity="0.74"/><rect x="1575.00" y="427.9" width="6.1" height="2.3" fill="#ef5350"/>
<rect x="1584.66" y="392.8" width="1.4" height="323.4" fill="#ef5350" opacity="0.74"/><rect x="1582.31" y="429.3" width="6.1" height="150.4" fill="#ef5350"/>
<rect x="1591.98" y="548.9" width="1.4" height="94.0" fill="#ef5350" opacity="0.74"/><rect x="1589.63" y="578.9" width="6.1" height="4.1" fill="#ef5350"/>
<rect x="1599.29" y="537.2" width="1.4" height="66.8" fill="#26a69a" opacity="0.74"/><rect x="1596.94" y="559.9" width="6.1" height="23.9" fill="#26a69a"/>
</g>
<line x1="0" y1="560.1" x2="2024" y2="560.1" stroke="#26a69a" stroke-width="1.8" stroke-dasharray="1.25 1.25" opacity="0.42"/>
<rect x="2066.05" y="0" width="1.95" height="1100" fill="#424349"/>
<rect x="0" y="1078.95" width="2130" height="1.25" fill="#5f6064"/>
<g id="pscale" font-size="10.3" fill="#c4c5ca">
<text transform="translate(2075,23.4) scale(0.864,1)">52.0000000</text>
<text transform="translate(2075,69.8) scale(0.864,1)">50.0000000</text>
<text transform="translate(2075,116.2) scale(0.864,1)">48.0000000</text>
<text transform="translate(2075,162.7) scale(0.864,1)">46.0000000</text>
<text transform="translate(2075,209.1) scale(0.864,1)">44.0000000</text>
<text transform="translate(2075,255.6) scale(0.864,1)">42.0000000</text>
<text transform="translate(2075,302.0) scale(0.864,1)">40.0000000</text>
<text transform="translate(2075,348.4) scale(0.864,1)">38.0000000</text>
<text transform="translate(2075,394.9) scale(0.864,1)">36.0000000</text>
<text transform="translate(2075,441.3) scale(0.864,1)">34.0000000</text>
<text transform="translate(2075,487.8) scale(0.864,1)">32.0000000</text>
<text transform="translate(2075,534.2) scale(0.864,1)">30.0000000</text>
<text transform="translate(2075,580.6) scale(0.864,1)">28.0000000</text>
<text transform="translate(2075,627.1) scale(0.864,1)">26.0000000</text>
<text transform="translate(2075,673.5) scale(0.864,1)">24.0000000</text>
<text transform="translate(2075,720.0) scale(0.864,1)">22.0000000</text>
<text transform="translate(2075,766.4) scale(0.864,1)">20.0000000</text>
<text transform="translate(2075,812.8) scale(0.864,1)">18.0000000</text>
<text transform="translate(2075,859.3) scale(0.864,1)">16.0000000</text>
<text transform="translate(2075,905.7) scale(0.864,1)">14.0000000</text>
<text transform="translate(2075,952.2) scale(0.864,1)">12.0000000</text>
<text transform="translate(2075,998.6) scale(0.864,1)">10.0000000</text>
<text transform="translate(2075,1045.0) scale(0.864,1)">8.0000000</text>
</g>
<rect x="2066.6" y="292.1" width="59.2" height="13.8" rx="1.2" fill="#434655"/>
<text transform="translate(2075,301.9) scale(0.864,1)" font-size="10.3" fill="#e4e4e6">40.0000000</text>
<rect x="2066.6" y="594.0" width="59.2" height="13.8" rx="1.2" fill="#666666"/>
<text transform="translate(2075,603.9) scale(0.864,1)" font-size="10.3" fill="#e4e4e6">27.0000000</text>
<rect x="2066.6" y="770.8" width="59.2" height="13.8" rx="1.2" fill="#666666"/>
<text transform="translate(2075,780.6) scale(0.864,1)" font-size="10.3" fill="#e4e4e6">19.4000000</text>
<rect x="2066.6" y="872.4" width="59.2" height="13.8" rx="1.2" fill="#666666"/>
<text transform="translate(2075,882.3) scale(0.864,1)" font-size="10.3" fill="#e4e4e6">15.0000000</text>
<rect x="2024" y="552.8" width="42.2" height="14.2" rx="2" fill="#26a69a"/>
<text transform="translate(2027.5,562.9) scale(0.88,1)" font-size="8.8" fill="#eefaf8">DOTUSD</text>
<rect x="2066.8" y="552.8" width="59.2" height="25.2" rx="2" fill="#26a69a"/>
<text transform="translate(2075,562.9) scale(0.955,1)" font-size="9.2" fill="#ffffff">28.7692661</text>
<text transform="translate(2075,573.8) scale(0.99,1)" font-size="9.2" fill="#ffffff" opacity="0.75">11:31:50</text>
<g id="tscale" font-size="10.3" fill="#d1d4dc" text-anchor="middle">
<text transform="translate(93.3,1093.4) scale(0.864,1)">15</text>
<text transform="translate(195.6,1093.4) scale(0.88,1)" font-weight="bold">Mar</text>
<text transform="translate(298.0,1093.4) scale(0.864,1)">15</text>
<text transform="translate(422.3,1093.4) scale(0.88,1)" font-weight="bold">Apr</text>
<text transform="translate(502.8,1093.4) scale(0.864,1)">12</text>
<text transform="translate(568.6,1093.4) scale(0.864,1)">21</text>
<text transform="translate(641.7,1093.4) scale(0.88,1)" font-weight="bold">May</text>
<text transform="translate(707.5,1093.4) scale(0.864,1)">10</text>
<text transform="translate(773.3,1093.4) scale(0.864,1)">19</text>
<text transform="translate(868.4,1093.4) scale(0.88,1)" font-weight="bold">Jun</text>
<text transform="translate(963.5,1093.4) scale(0.864,1)">14</text>
<text transform="translate(1087.8,1093.4) scale(0.88,1)" font-weight="bold">Jul</text>
<text transform="translate(1168.2,1093.4) scale(0.864,1)">12</text>
<text transform="translate(1234.1,1093.4) scale(0.864,1)">21</text>
<text transform="translate(1314.5,1093.4) scale(0.88,1)" font-weight="bold">Aug</text>
<text transform="translate(1424.2,1093.4) scale(0.864,1)">16</text>
<text transform="translate(1541.2,1093.4) scale(0.88,1)" font-weight="bold">Sep</text>
<text transform="translate(1628.9,1093.4) scale(0.864,1)">13</text>
<text transform="translate(1694.8,1093.4) scale(0.864,1)">22</text>
<text transform="translate(1760.6,1093.4) scale(0.88,1)" font-weight="bold">Oct</text>
<text transform="translate(1833.7,1093.4) scale(0.864,1)">11</text>
<text transform="translate(1899.5,1093.4) scale(0.864,1)">20</text>
<text transform="translate(1987.3,1093.4) scale(0.88,1)" font-weight="bold">Nov</text>
</g>
<g id="gear" transform="translate(2098.6,1091.3)">
<circle r="3.45" stroke="#6b6e7e" stroke-width="1.15" fill="none"/>
<polygon points="3.80,1.15 6.70,0.00 3.80,-1.15" fill="#676a7a"/>
<polygon points="1.87,3.50 4.74,4.74 3.50,1.87" fill="#676a7a"/>
<polygon points="-1.15,3.80 0.00,6.70 1.15,3.80" fill="#676a7a"/>
<polygon points="-3.50,1.87 -4.74,4.74 -1.87,3.50" fill="#676a7a"/>
<polygon points="-3.80,-1.15 -6.70,0.00 -3.80,1.15" fill="#676a7a"/>
<polygon points="-1.87,-3.50 -4.74,-4.74 -3.50,-1.87" fill="#676a7a"/>
<polygon points="1.15,-3.80 -0.00,-6.70 -1.15,-3.80" fill="#676a7a"/>
<polygon points="3.50,-1.87 4.74,-4.74 1.87,-3.50" fill="#676a7a"/>
</g>
</svg></body></html>
